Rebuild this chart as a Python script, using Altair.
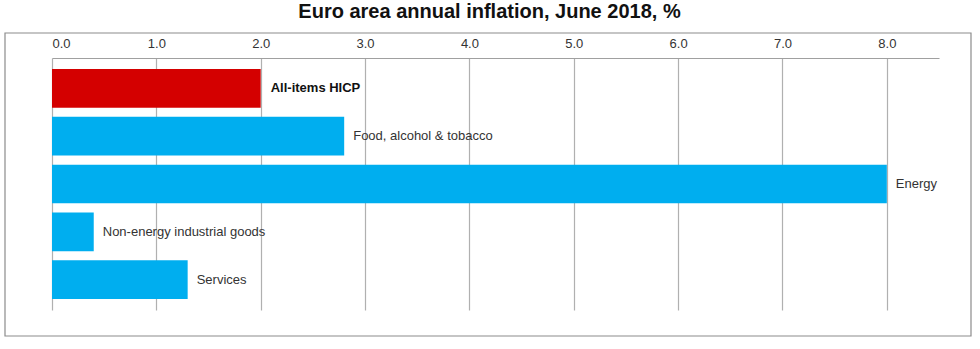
import altair as alt
import pandas as pd

categories = ["All-items HICP", "Food, alcohol & tobacco", "Energy",
              "Non-energy industrial goods", "Services"]
values = [2.0, 2.8, 8.0, 0.4, 1.3]
bar_colors = ["#d40000", "#00aeef", "#00aeef", "#00aeef", "#00aeef"]
bold_flags = [True, False, False, False, False]
tick_values = [0, 1, 2, 3, 4, 5, 6, 7, 8]

df = pd.DataFrame({"category": categories, "value": values, "bold": bold_flags})

FONT = "Liberation Sans"

x_enc = alt.X(
    "value:Q",
    scale=alt.Scale(domain=[0, 8.5], nice=False, zero=True),
    axis=alt.Axis(orient="top", values=tick_values, format=".1f", grid=True,
                  ticks=False, title=None, labelFontSize=13, labelColor="#333333",
                  labelFont=FONT, domainColor="#a0a0a0", gridColor="#b0b0b0",
                  labelPadding=8, domainWidth=1.2, gridWidth=1.2),
)
y_enc = alt.Y("category:N", sort=categories, axis=None,
              scale=alt.Scale(paddingInner=0.19, paddingOuter=0.23))

base = alt.Chart(df)

bars = base.mark_bar().encode(
    x=x_enc,
    y=y_enc,
    color=alt.Color("category:N", scale=alt.Scale(domain=categories, range=bar_colors),
                    legend=None),
)

labels_normal = base.transform_filter("!datum.bold").mark_text(
    align="left", baseline="middle", dx=9, fontSize=13, font=FONT, color="#333333"
).encode(x="value:Q", y=alt.Y("category:N", sort=categories), text="category:N")

labels_bold = base.transform_filter("datum.bold").mark_text(
    align="left", baseline="middle", dx=10, fontSize=13, font=FONT, color="#111111",
    fontWeight="bold"
).encode(x="value:Q", y=alt.Y("category:N", sort=categories), text="category:N")

frame = alt.Chart(pd.DataFrame({"f": [0]})).mark_rect(
    fill=None, stroke="#8c8c8c", strokeWidth=1.2
).encode(x=alt.value(-47), x2=alt.value(919), y=alt.value(-25), y2=alt.value(278))

chart = alt.layer(frame, bars, labels_normal, labels_bold).properties(
    width=887,
    height=252,
    title=alt.TitleParams("Euro area annual inflation, June 2018, %", font=FONT,
                          fontSize=20, fontWeight="bold", color="#111111",
                          anchor="middle", offset=10, dx=-6),
    autosize=alt.AutoSizeParams(type="none"),
    padding={"left": 52, "top": 58, "right": 41, "bottom": 39},
).configure(background="white").configure_view(stroke=None)

chart.save("out.html", embed_options={"renderer": "svg", "actions": False})
